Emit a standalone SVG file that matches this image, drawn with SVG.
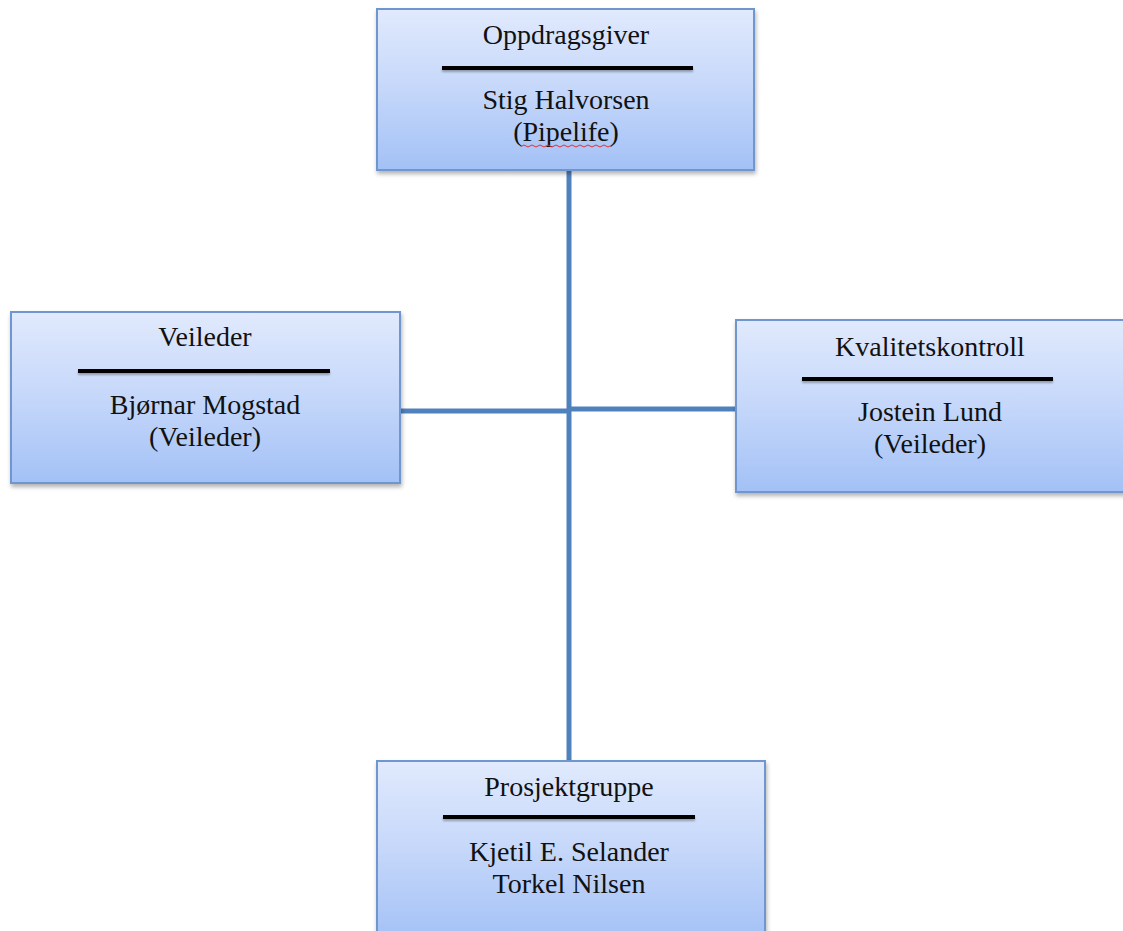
<svg xmlns="http://www.w3.org/2000/svg" width="1123" height="931" viewBox="0 0 1123 931">
<style>
.box{fill:url(#g);stroke:#7096cf;stroke-width:2;filter:url(#sh)}
.sep{fill:#000;filter:url(#sh2)}
.t{font-family:"Liberation Serif","Times New Roman",serif;font-size:28px;fill:#111;text-anchor:middle}
.c{stroke:#4f81bd;stroke-width:5;fill:none}
</style>
<defs>
<linearGradient id="g" x1="0" y1="0" x2="0" y2="1">
<stop offset="0" stop-color="#e1eafd"/>
<stop offset="0.5" stop-color="#c5d7fa"/>
<stop offset="1" stop-color="#a3c1f6"/>
</linearGradient>
<filter id="sh" x="-5%" y="-5%" width="110%" height="115%">
<feDropShadow dx="1" dy="3" stdDeviation="2" flood-color="#000" flood-opacity="0.3"/>
</filter>
<filter id="sh2" x="-5%" y="-100%" width="110%" height="400%">
<feDropShadow dx="0" dy="2" stdDeviation="1.2" flood-color="#000" flood-opacity="0.3"/>
</filter>
</defs>
<g id="connectors">
<line class="c" x1="569" y1="170" x2="569" y2="761"/>
<line class="c" x1="400" y1="411" x2="569" y2="411"/>
<line class="c" x1="569" y1="409" x2="736" y2="409"/>
</g>
<g id="oppdragsgiver">
<rect class="box" x="377" y="9" width="377" height="161"/>
<rect class="sep" x="442" y="66" width="251" height="4"/>
<text class="t" x="566" y="44">Oppdragsgiver</text>
<text class="t" x="566" y="109">Stig Halvorsen</text>
<text class="t" x="566" y="141">(Pipelife)</text>
<path d="M522,146 q2,-2 4,0 t4,0 t4,0 t4,0 t4,0 t4,0 t4,0 t4,0 t4,0 t4,0 t4,0 t4,0 t4,0 t4,0 t4,0 t4,0 t4,0 t4,0 t4,0 t4,0 t4,0 t4,0" fill="none" stroke="#e03030" stroke-width="1"/>
</g>
<g id="veileder">
<rect class="box" x="11" y="312" width="389" height="171"/>
<rect class="sep" x="78" y="369" width="252" height="4"/>
<text class="t" x="205" y="346">Veileder</text>
<text class="t" x="205" y="414">Bjørnar Mogstad</text>
<text class="t" x="205" y="446">(Veileder)</text>
</g>
<g id="kvalitetskontroll">
<rect class="box" x="736" y="320" width="392" height="172"/>
<rect class="sep" x="802" y="377" width="251" height="4"/>
<text class="t" x="930" y="356">Kvalitetskontroll</text>
<text class="t" x="930" y="421">Jostein Lund</text>
<text class="t" x="930" y="453">(Veileder)</text>
</g>
<g id="prosjektgruppe">
<rect class="box" x="377" y="761" width="388" height="180"/>
<rect class="sep" x="443" y="815" width="252" height="4"/>
<text class="t" x="569" y="796">Prosjektgruppe</text>
<text class="t" x="569" y="861">Kjetil E. Selander</text>
<text class="t" x="569" y="893">Torkel Nilsen</text>
</g>
</svg>
